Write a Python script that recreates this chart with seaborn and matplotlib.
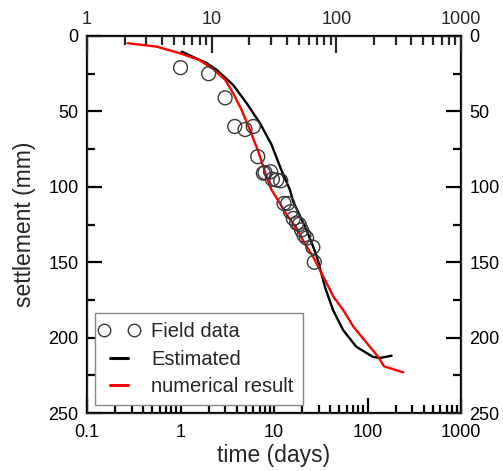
import numpy as np
import matplotlib
matplotlib.use('Agg')
import matplotlib.pyplot as plt
import pandas as pd
import seaborn as sns
from matplotlib.lines import Line2D
from matplotlib.legend_handler import HandlerLine2D
from matplotlib.ticker import FixedLocator, FuncFormatter, LogLocator, NullFormatter, MultipleLocator

SET_DPI = 100
FIGSIZE = (5.03, 4.71)

# field measurements
field_t = [1.0, 2.0, 3.0, 3.8, 4.9, 6.0, 6.7, 7.7, 8.0, 9.2, 9.6, 10.7, 11.8, 12.8,
           14.0, 15.0, 16.1, 17.5, 18.6, 19.7, 20.9, 22.3, 26.0, 27.0]
field_s = [21, 25, 41, 60, 62, 60, 80, 91, 90.5, 90, 95, 95.5, 96, 111,
           111, 116.5, 121, 124, 125, 128.6, 132, 134, 140, 150]

# estimated curve
est_t = [1.03, 1.9, 2.44, 3.66, 5.1, 7.1, 9.4, 12, 14.8, 16.1, 22.3, 28.7, 35.3,
         43, 54.9, 75.8, 114, 135, 181]
est_s = [10.4, 18, 22.5, 32.5, 44.6, 58, 72, 89, 102, 110, 128.6, 146, 167,
         182, 195, 206, 212.7, 213.5, 212]

# numerical result
num_t = [0.272, 0.55, 0.99, 1.6, 2.24, 3.0, 3.66, 4.5, 5.5, 6.8, 8.3, 9.4, 11,
         13.5, 17.5, 21.3, 26.2, 35.3, 43.4, 55, 70.8, 106, 130, 150, 241]
num_s = [4.8, 7, 11.5, 16, 22, 29, 38, 49, 62, 76.7, 93, 102, 108.7,
         118, 127.5, 137.5, 146.4, 162, 173, 181.7, 192.8, 206, 212.7, 219, 223]

sns.set_style('ticks')
plt.rcParams['font.family'] = ['Liberation Sans', 'DejaVu Sans']
plt.rcParams['font.size'] = 13

fig = plt.figure(figsize=FIGSIZE, dpi=SET_DPI)
ax = fig.add_axes([0.173, 0.123, 0.7435, 0.8006])

sns.lineplot(x=est_t, y=est_s, sort=False, color='black', lw=1.7, ax=ax)
sns.lineplot(x=num_t, y=num_s, sort=False, color='#ff0000', lw=1.7, ax=ax)
sns.scatterplot(x=field_t, y=field_s, marker='o', s=100, facecolor='none',
                edgecolor='#3a3a3a', linewidth=1.0, ax=ax, zorder=3)

ax.set_xscale('log')
ax.set_xlim(0.1, 1000)
ax.set_ylim(250, 0)
ax.xaxis.set_major_locator(FixedLocator([0.1, 1, 10, 100, 1000]))
ax.xaxis.set_major_formatter(FuncFormatter(lambda v, p: f'{v:g}'))
ax.xaxis.set_minor_locator(LogLocator(base=10, subs=np.arange(2, 10)))
ax.xaxis.set_minor_formatter(NullFormatter())
ax.yaxis.set_major_locator(MultipleLocator(50))
ax.yaxis.set_minor_locator(MultipleLocator(25))

for sp in ax.spines.values():
    sp.set_linewidth(1.6)
    sp.set_color('black')

ax.tick_params(which='both', direction='in', top=False, right=True,
               labelright=True, width=1.6, colors='black', labelsize=13)
ax.tick_params(which='major', length=11)
ax.tick_params(which='minor', length=6)
ax.tick_params(axis='x', pad=8)
ax.tick_params(axis='y', pad=6)

ax.set_xlabel('time (days)', fontsize=16.5, labelpad=2)
ax.set_ylabel('settlement (mm)', fontsize=16.5, labelpad=9)

top = ax.twiny()
top.set_xscale('log')
top.set_xlim(1, 1000)
top.xaxis.set_major_locator(FixedLocator([1, 10, 100, 1000]))
top.xaxis.set_major_formatter(FuncFormatter(lambda v, p: f'{v:g}'))
top.xaxis.set_minor_locator(LogLocator(base=10, subs=np.arange(2, 10)))
top.xaxis.set_minor_formatter(NullFormatter())
top.tick_params(which='both', direction='in', width=1.6, labelsize=13, pad=6)
top.tick_params(which='major', length=12)
top.tick_params(which='minor', length=6.5)

field_handle = Line2D([], [], marker='o', ls='none', markersize=9, markerfacecolor='none',
                      markeredgecolor='#3a3a3a', markeredgewidth=1.0)
handles = [
    field_handle,
    Line2D([], [], color='black', lw=2.2),
    Line2D([], [], color='#ff0000', lw=2.2),
]
leg = ax.legend(handles, ['Field data', 'Estimated', 'numerical result'],
                loc='lower left', bbox_to_anchor=(0.021, 0.021), borderaxespad=0,
                numpoints=2, handlelength=1.5, handletextpad=0.85,
                handler_map={field_handle: HandlerLine2D(marker_pad=0.0)},
                fancybox=False, framealpha=1, edgecolor='#888888', fontsize=14.5,
                labelspacing=0.42, borderpad=0.45)
leg.get_frame().set_linewidth(1.0)

plt.savefig('out.png', dpi=SET_DPI)
plt.close()
